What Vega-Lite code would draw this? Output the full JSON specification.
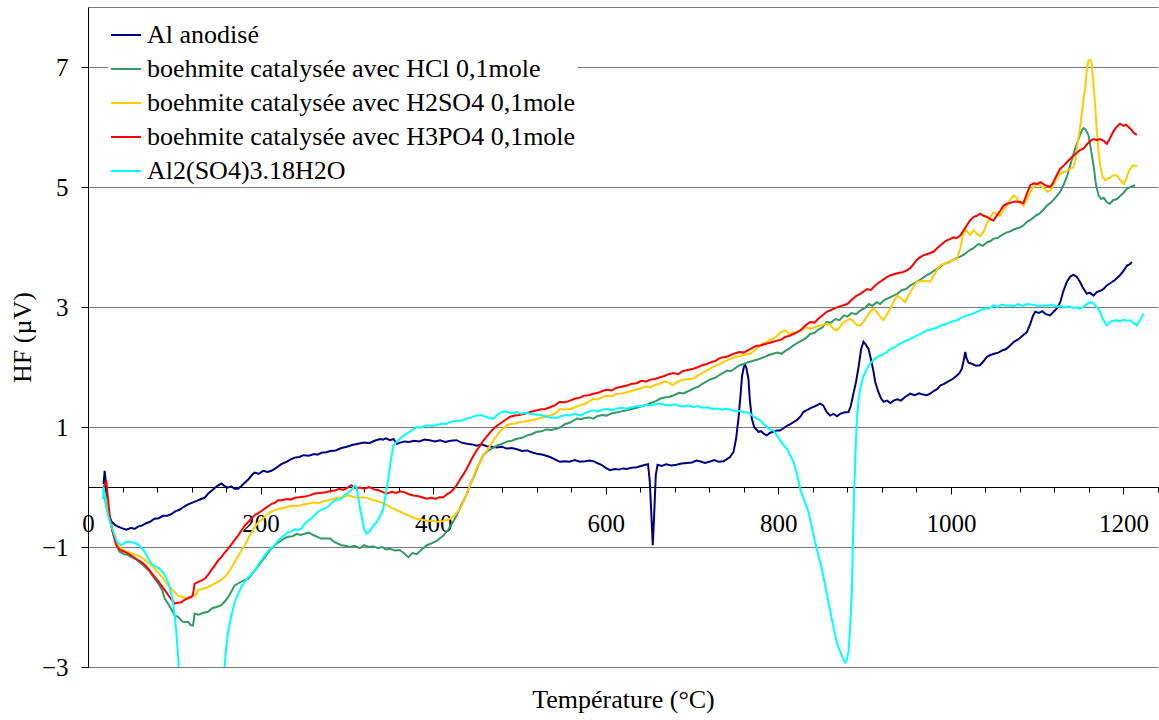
{
"$schema": "https://vega.github.io/schema/vega-lite/v6.json",
"width": 1070,
"height": 660,
"autosize": "none",
"padding": {"left": 88, "top": 7, "right": 1, "bottom": 53},
"background": "white",
"config": {"view": {"stroke": null}, "font": "Liberation Serif"},
"datasets": {
"names": [
{"k": "a", "name": "Al anodisé"},
{"k": "g", "name": "boehmite catalysée avec HCl 0,1mole"},
{"k": "y", "name": "boehmite catalysée avec H2SO4 0,1mole"},
{"k": "r", "name": "boehmite catalysée avec H3PO4 0,1mole"},
{"k": "c", "name": "Al2(SO4)3.18H2O"}
],
"pts": [
{"k":"a","t":18,"v":0.05},{"k":"a","t":19.3,"v":0.27},{"k":"a","t":20.5,"v":0.1},{"k":"a","t":21.2,"v":-0.32},{"k":"a","t":24,"v":-0.45},{"k":"a","t":27,"v":-0.57},{"k":"a","t":31,"v":-0.63},{"k":"a","t":34.7,"v":-0.66},{"k":"a","t":40,"v":-0.69},{"k":"a","t":44.4,"v":-0.71},{"k":"a","t":50,"v":-0.68},{"k":"a","t":54,"v":-0.7},{"k":"a","t":58,"v":-0.66},{"k":"a","t":63,"v":-0.64},{"k":"a","t":68,"v":-0.6},{"k":"a","t":72,"v":-0.58},{"k":"a","t":77,"v":-0.53},{"k":"a","t":82,"v":-0.52},{"k":"a","t":87,"v":-0.48},{"k":"a","t":92,"v":-0.48},{"k":"a","t":96.6,"v":-0.45},{"k":"a","t":102,"v":-0.4},{"k":"a","t":106,"v":-0.38},{"k":"a","t":111,"v":-0.33},{"k":"a","t":116,"v":-0.29},{"k":"a","t":121,"v":-0.26},{"k":"a","t":126,"v":-0.23},{"k":"a","t":131,"v":-0.2},{"k":"a","t":135,"v":-0.18},{"k":"a","t":140,"v":-0.1},{"k":"a","t":145,"v":-0.04},{"k":"a","t":150,"v":0.02},{"k":"a","t":154.6,"v":0.06},{"k":"a","t":158,"v":0.02},{"k":"a","t":162,"v":-0.01},{"k":"a","t":166,"v":0.01},{"k":"a","t":170,"v":-0.03},{"k":"a","t":174,"v":-0.03},{"k":"a","t":178,"v":0.02},{"k":"a","t":181.6,"v":0.07},{"k":"a","t":186,"v":0.13},{"k":"a","t":190,"v":0.2},{"k":"a","t":193,"v":0.24},{"k":"a","t":198,"v":0.22},{"k":"a","t":203,"v":0.27},{"k":"a","t":208,"v":0.25},{"k":"a","t":212.5,"v":0.27},{"k":"a","t":218,"v":0.32},{"k":"a","t":224,"v":0.38},{"k":"a","t":230,"v":0.42},{"k":"a","t":235,"v":0.46},{"k":"a","t":239.6,"v":0.49},{"k":"a","t":245,"v":0.5},{"k":"a","t":250,"v":0.53},{"k":"a","t":256,"v":0.52},{"k":"a","t":262,"v":0.55},{"k":"a","t":266,"v":0.54},{"k":"a","t":270.5,"v":0.57},{"k":"a","t":276,"v":0.58},{"k":"a","t":281,"v":0.6},{"k":"a","t":287,"v":0.61},{"k":"a","t":293.7,"v":0.65},{"k":"a","t":300,"v":0.67},{"k":"a","t":306,"v":0.7},{"k":"a","t":313,"v":0.72},{"k":"a","t":320,"v":0.74},{"k":"a","t":326,"v":0.73},{"k":"a","t":332,"v":0.77},{"k":"a","t":338.5,"v":0.8},{"k":"a","t":342,"v":0.79},{"k":"a","t":345,"v":0.81},{"k":"a","t":350,"v":0.78},{"k":"a","t":354,"v":0.8},{"k":"a","t":357.8,"v":0.72},{"k":"a","t":362,"v":0.74},{"k":"a","t":367,"v":0.76},{"k":"a","t":372,"v":0.75},{"k":"a","t":378,"v":0.77},{"k":"a","t":384,"v":0.76},{"k":"a","t":390,"v":0.79},{"k":"a","t":396,"v":0.78},{"k":"a","t":402,"v":0.76},{"k":"a","t":408,"v":0.78},{"k":"a","t":414,"v":0.75},{"k":"a","t":420,"v":0.77},{"k":"a","t":427,"v":0.78},{"k":"a","t":433,"v":0.74},{"k":"a","t":439,"v":0.72},{"k":"a","t":445,"v":0.71},{"k":"a","t":450.5,"v":0.69},{"k":"a","t":456,"v":0.71},{"k":"a","t":462,"v":0.68},{"k":"a","t":468,"v":0.67},{"k":"a","t":473.7,"v":0.66},{"k":"a","t":480,"v":0.67},{"k":"a","t":485,"v":0.64},{"k":"a","t":491,"v":0.65},{"k":"a","t":497,"v":0.63},{"k":"a","t":503,"v":0.6},{"k":"a","t":509,"v":0.61},{"k":"a","t":514,"v":0.58},{"k":"a","t":520,"v":0.555},{"k":"a","t":526,"v":0.54},{"k":"a","t":531,"v":0.52},{"k":"a","t":535.5,"v":0.5},{"k":"a","t":540,"v":0.47},{"k":"a","t":544,"v":0.44},{"k":"a","t":547,"v":0.42},{"k":"a","t":552,"v":0.43},{"k":"a","t":558,"v":0.42},{"k":"a","t":564,"v":0.45},{"k":"a","t":570,"v":0.42},{"k":"a","t":576,"v":0.43},{"k":"a","t":581,"v":0.44},{"k":"a","t":585.7,"v":0.43},{"k":"a","t":590,"v":0.4},{"k":"a","t":595,"v":0.37},{"k":"a","t":600,"v":0.32},{"k":"a","t":605,"v":0.28},{"k":"a","t":610,"v":0.3},{"k":"a","t":615,"v":0.29},{"k":"a","t":620,"v":0.31},{"k":"a","t":624.4,"v":0.3},{"k":"a","t":630,"v":0.32},{"k":"a","t":636,"v":0.33},{"k":"a","t":641,"v":0.35},{"k":"a","t":646,"v":0.37},{"k":"a","t":649,"v":0.38},{"k":"a","t":651,"v":0.1},{"k":"a","t":653,"v":-0.5},{"k":"a","t":654.5,"v":-0.97},{"k":"a","t":656,"v":-0.5},{"k":"a","t":658,"v":0.2},{"k":"a","t":660,"v":0.37},{"k":"a","t":665,"v":0.35},{"k":"a","t":670,"v":0.38},{"k":"a","t":676,"v":0.36},{"k":"a","t":682,"v":0.37},{"k":"a","t":688,"v":0.39},{"k":"a","t":694,"v":0.4},{"k":"a","t":700,"v":0.41},{"k":"a","t":705,"v":0.44},{"k":"a","t":709,"v":0.43},{"k":"a","t":715,"v":0.4},{"k":"a","t":720,"v":0.42},{"k":"a","t":726,"v":0.45},{"k":"a","t":731,"v":0.42},{"k":"a","t":736.4,"v":0.43},{"k":"a","t":740,"v":0.46},{"k":"a","t":744,"v":0.5},{"k":"a","t":748,"v":0.58},{"k":"a","t":751,"v":0.8},{"k":"a","t":753.8,"v":1.14},{"k":"a","t":756,"v":1.5},{"k":"a","t":758,"v":1.85},{"k":"a","t":760,"v":2},{"k":"a","t":761.6,"v":2.04},{"k":"a","t":763,"v":1.98},{"k":"a","t":765.4,"v":1.8},{"k":"a","t":767,"v":1.45},{"k":"a","t":769.3,"v":1.14},{"k":"a","t":772,"v":1},{"k":"a","t":775,"v":0.95},{"k":"a","t":777,"v":0.92},{"k":"a","t":780,"v":0.93},{"k":"a","t":783,"v":0.89},{"k":"a","t":786.7,"v":0.86},{"k":"a","t":790,"v":0.9},{"k":"a","t":794,"v":0.92},{"k":"a","t":798,"v":0.94},{"k":"a","t":802,"v":0.94},{"k":"a","t":806,"v":0.98},{"k":"a","t":810,"v":1.02},{"k":"a","t":813,"v":1.04},{"k":"a","t":817.6,"v":1.08},{"k":"a","t":822,"v":1.12},{"k":"a","t":826,"v":1.18},{"k":"a","t":829,"v":1.25},{"k":"a","t":833,"v":1.28},{"k":"a","t":838,"v":1.32},{"k":"a","t":843,"v":1.35},{"k":"a","t":848.5,"v":1.39},{"k":"a","t":852,"v":1.36},{"k":"a","t":856,"v":1.25},{"k":"a","t":860,"v":1.19},{"k":"a","t":864,"v":1.22},{"k":"a","t":868,"v":1.18},{"k":"a","t":871.7,"v":1.22},{"k":"a","t":876,"v":1.24},{"k":"a","t":881.3,"v":1.25},{"k":"a","t":884,"v":1.35},{"k":"a","t":887,"v":1.555},{"k":"a","t":890,"v":1.75},{"k":"a","t":893,"v":2},{"k":"a","t":896,"v":2.3},{"k":"a","t":898.7,"v":2.42},{"k":"a","t":901,"v":2.38},{"k":"a","t":904.5,"v":2.3},{"k":"a","t":907,"v":2.15},{"k":"a","t":910,"v":1.95},{"k":"a","t":912.3,"v":1.75},{"k":"a","t":916,"v":1.58},{"k":"a","t":919,"v":1.48},{"k":"a","t":921.9,"v":1.42},{"k":"a","t":926,"v":1.44},{"k":"a","t":930,"v":1.4},{"k":"a","t":933.5,"v":1.44},{"k":"a","t":938,"v":1.46},{"k":"a","t":942,"v":1.44},{"k":"a","t":947,"v":1.5},{"k":"a","t":952.8,"v":1.555},{"k":"a","t":958,"v":1.53},{"k":"a","t":963,"v":1.56},{"k":"a","t":968,"v":1.54},{"k":"a","t":972,"v":1.53},{"k":"a","t":976,"v":1.555},{"k":"a","t":980,"v":1.6},{"k":"a","t":984,"v":1.63},{"k":"a","t":987.6,"v":1.69},{"k":"a","t":992,"v":1.72},{"k":"a","t":997,"v":1.76},{"k":"a","t":1002,"v":1.8},{"k":"a","t":1007,"v":1.86},{"k":"a","t":1010,"v":1.9},{"k":"a","t":1012.7,"v":1.97},{"k":"a","t":1015,"v":2.12},{"k":"a","t":1016.6,"v":2.25},{"k":"a","t":1018,"v":2.15},{"k":"a","t":1020.4,"v":2.07},{"k":"a","t":1025,"v":2.05},{"k":"a","t":1029,"v":2.02},{"k":"a","t":1033.6,"v":2.03},{"k":"a","t":1038,"v":2.1},{"k":"a","t":1041.7,"v":2.17},{"k":"a","t":1046,"v":2.2},{"k":"a","t":1050,"v":2.22},{"k":"a","t":1055,"v":2.24},{"k":"a","t":1060,"v":2.28},{"k":"a","t":1064,"v":2.3},{"k":"a","t":1068.7,"v":2.36},{"k":"a","t":1073,"v":2.42},{"k":"a","t":1078,"v":2.46},{"k":"a","t":1083,"v":2.52},{"k":"a","t":1088,"v":2.58},{"k":"a","t":1092,"v":2.72},{"k":"a","t":1095,"v":2.85},{"k":"a","t":1097.7,"v":2.92},{"k":"a","t":1102,"v":2.9},{"k":"a","t":1106,"v":2.93},{"k":"a","t":1110,"v":2.88},{"k":"a","t":1115,"v":2.86},{"k":"a","t":1119,"v":2.92},{"k":"a","t":1123,"v":2.98},{"k":"a","t":1126.7,"v":3.08},{"k":"a","t":1130,"v":3.25},{"k":"a","t":1134.4,"v":3.42},{"k":"a","t":1138,"v":3.5},{"k":"a","t":1142,"v":3.54},{"k":"a","t":1146,"v":3.5},{"k":"a","t":1149.5,"v":3.42},{"k":"a","t":1153,"v":3.32},{"k":"a","t":1157.6,"v":3.22},{"k":"a","t":1161,"v":3.24},{"k":"a","t":1165.3,"v":3.19},{"k":"a","t":1169,"v":3.25},{"k":"a","t":1173,"v":3.27},{"k":"a","t":1177,"v":3.3},{"k":"a","t":1180.7,"v":3.36},{"k":"a","t":1185,"v":3.4},{"k":"a","t":1190,"v":3.45},{"k":"a","t":1196,"v":3.53},{"k":"a","t":1200,"v":3.6},{"k":"a","t":1204,"v":3.69},{"k":"a","t":1207,"v":3.71},{"k":"a","t":1209.8,"v":3.75},
{"k":"g","t":17,"v":-0.2},{"k":"g","t":19,"v":-0.15},{"k":"g","t":21,"v":-0.3},{"k":"g","t":23.2,"v":-0.42},{"k":"g","t":27,"v":-0.65},{"k":"g","t":30.9,"v":-0.86},{"k":"g","t":34,"v":-1},{"k":"g","t":36.7,"v":-1.08},{"k":"g","t":42,"v":-1.12},{"k":"g","t":46,"v":-1.13},{"k":"g","t":50.2,"v":-1.17},{"k":"g","t":55,"v":-1.2},{"k":"g","t":60,"v":-1.26},{"k":"g","t":65.7,"v":-1.33},{"k":"g","t":71,"v":-1.4},{"k":"g","t":77.3,"v":-1.53},{"k":"g","t":82,"v":-1.62},{"k":"g","t":86,"v":-1.72},{"k":"g","t":88.9,"v":-1.86},{"k":"g","t":93,"v":-1.95},{"k":"g","t":97,"v":-2.05},{"k":"g","t":100.5,"v":-2.14},{"k":"g","t":105,"v":-2.17},{"k":"g","t":109,"v":-2.24},{"k":"g","t":112,"v":-2.25},{"k":"g","t":116,"v":-2.25},{"k":"g","t":119,"v":-2.3},{"k":"g","t":121.7,"v":-2.31},{"k":"g","t":123.6,"v":-2.11},{"k":"g","t":128,"v":-2.13},{"k":"g","t":133,"v":-2.1},{"k":"g","t":139,"v":-2.08},{"k":"g","t":144,"v":-2.02},{"k":"g","t":149,"v":-2},{"k":"g","t":154.5,"v":-1.97},{"k":"g","t":159,"v":-1.9},{"k":"g","t":164,"v":-1.8},{"k":"g","t":170,"v":-1.64},{"k":"g","t":175,"v":-1.6},{"k":"g","t":180,"v":-1.56},{"k":"g","t":185.5,"v":-1.53},{"k":"g","t":190,"v":-1.45},{"k":"g","t":195,"v":-1.36},{"k":"g","t":200.9,"v":-1.25},{"k":"g","t":206,"v":-1.15},{"k":"g","t":211,"v":-1.05},{"k":"g","t":216.4,"v":-0.97},{"k":"g","t":221,"v":-0.92},{"k":"g","t":226,"v":-0.87},{"k":"g","t":231.8,"v":-0.83},{"k":"g","t":237,"v":-0.82},{"k":"g","t":242,"v":-0.78},{"k":"g","t":246,"v":-0.8},{"k":"g","t":251.2,"v":-0.78},{"k":"g","t":256,"v":-0.76},{"k":"g","t":261,"v":-0.8},{"k":"g","t":266,"v":-0.83},{"k":"g","t":270.4,"v":-0.86},{"k":"g","t":276,"v":-0.86},{"k":"g","t":280.5,"v":-0.86},{"k":"g","t":286,"v":-0.92},{"k":"g","t":293.6,"v":-0.97},{"k":"g","t":298,"v":-0.98},{"k":"g","t":303.7,"v":-1},{"k":"g","t":309,"v":-0.98},{"k":"g","t":315,"v":-1.02},{"k":"g","t":320,"v":-0.97},{"k":"g","t":325,"v":-1},{"k":"g","t":330.7,"v":-0.99},{"k":"g","t":336,"v":-1.02},{"k":"g","t":341,"v":-1},{"k":"g","t":345,"v":-1.04},{"k":"g","t":350,"v":-1.03},{"k":"g","t":356,"v":-1.06},{"k":"g","t":361,"v":-1.05},{"k":"g","t":366,"v":-1.1},{"k":"g","t":371.3,"v":-1.17},{"k":"g","t":376,"v":-1.1},{"k":"g","t":381,"v":-1.12},{"k":"g","t":386,"v":-1.05},{"k":"g","t":392.6,"v":-0.97},{"k":"g","t":398,"v":-0.94},{"k":"g","t":404,"v":-0.9},{"k":"g","t":411.9,"v":-0.81},{"k":"g","t":418,"v":-0.7},{"k":"g","t":423,"v":-0.58},{"k":"g","t":427.3,"v":-0.47},{"k":"g","t":432,"v":-0.32},{"k":"g","t":437,"v":-0.18},{"k":"g","t":442.8,"v":0.03},{"k":"g","t":448,"v":0.2},{"k":"g","t":453,"v":0.38},{"k":"g","t":458.2,"v":0.53},{"k":"g","t":463,"v":0.6},{"k":"g","t":468,"v":0.64},{"k":"g","t":473.7,"v":0.69},{"k":"g","t":480,"v":0.72},{"k":"g","t":486,"v":0.76},{"k":"g","t":491,"v":0.77},{"k":"g","t":497,"v":0.805},{"k":"g","t":503,"v":0.82},{"k":"g","t":509,"v":0.86},{"k":"g","t":514,"v":0.88},{"k":"g","t":520,"v":0.92},{"k":"g","t":526,"v":0.93},{"k":"g","t":531,"v":0.96},{"k":"g","t":537,"v":0.95},{"k":"g","t":543,"v":0.97},{"k":"g","t":548,"v":1},{"k":"g","t":553,"v":1.05},{"k":"g","t":558,"v":1.07},{"k":"g","t":562,"v":1.1},{"k":"g","t":566.5,"v":1.14},{"k":"g","t":571,"v":1.13},{"k":"g","t":576,"v":1.15},{"k":"g","t":581,"v":1.16},{"k":"g","t":585.7,"v":1.14},{"k":"g","t":590,"v":1.18},{"k":"g","t":596,"v":1.2},{"k":"g","t":601,"v":1.19},{"k":"g","t":607,"v":1.23},{"k":"g","t":612,"v":1.24},{"k":"g","t":618,"v":1.26},{"k":"g","t":624.4,"v":1.28},{"k":"g","t":630,"v":1.3},{"k":"g","t":636,"v":1.32},{"k":"g","t":642,"v":1.35},{"k":"g","t":647,"v":1.37},{"k":"g","t":652,"v":1.4},{"k":"g","t":658,"v":1.43},{"k":"g","t":663,"v":1.47},{"k":"g","t":668,"v":1.49},{"k":"g","t":673,"v":1.5},{"k":"g","t":679,"v":1.53},{"k":"g","t":685,"v":1.57},{"k":"g","t":690,"v":1.56},{"k":"g","t":696,"v":1.6},{"k":"g","t":701.6,"v":1.64},{"k":"g","t":707,"v":1.67},{"k":"g","t":712,"v":1.72},{"k":"g","t":717,"v":1.76},{"k":"g","t":722,"v":1.8},{"k":"g","t":727,"v":1.82},{"k":"g","t":732,"v":1.87},{"k":"g","t":736,"v":1.9},{"k":"g","t":740.3,"v":1.94},{"k":"g","t":745,"v":1.93},{"k":"g","t":750,"v":1.98},{"k":"g","t":755,"v":2.03},{"k":"g","t":760,"v":2.05},{"k":"g","t":765,"v":2.08},{"k":"g","t":770,"v":2.1},{"k":"g","t":775,"v":2.12},{"k":"g","t":779,"v":2.14},{"k":"g","t":784,"v":2.17},{"k":"g","t":789,"v":2.2},{"k":"g","t":794,"v":2.22},{"k":"g","t":799,"v":2.24},{"k":"g","t":804,"v":2.22},{"k":"g","t":808,"v":2.27},{"k":"g","t":813,"v":2.31},{"k":"g","t":817.6,"v":2.36},{"k":"g","t":822,"v":2.4},{"k":"g","t":827,"v":2.44},{"k":"g","t":832,"v":2.48},{"k":"g","t":837,"v":2.55},{"k":"g","t":842,"v":2.57},{"k":"g","t":846,"v":2.62},{"k":"g","t":851,"v":2.66},{"k":"g","t":856,"v":2.75},{"k":"g","t":861,"v":2.74},{"k":"g","t":866,"v":2.8},{"k":"g","t":871,"v":2.78},{"k":"g","t":876,"v":2.86},{"k":"g","t":880,"v":2.84},{"k":"g","t":885,"v":2.9},{"k":"g","t":890,"v":2.88},{"k":"g","t":894.9,"v":2.94},{"k":"g","t":900,"v":2.98},{"k":"g","t":905,"v":3.05},{"k":"g","t":909,"v":3.02},{"k":"g","t":914,"v":3.08},{"k":"g","t":918,"v":3.05},{"k":"g","t":923,"v":3.12},{"k":"g","t":928,"v":3.15},{"k":"g","t":933.5,"v":3.19},{"k":"g","t":938,"v":3.22},{"k":"g","t":943,"v":3.28},{"k":"g","t":948,"v":3.3},{"k":"g","t":953,"v":3.36},{"k":"g","t":958,"v":3.4},{"k":"g","t":963,"v":3.44},{"k":"g","t":967,"v":3.48},{"k":"g","t":972,"v":3.53},{"k":"g","t":977,"v":3.57},{"k":"g","t":982,"v":3.62},{"k":"g","t":987,"v":3.66},{"k":"g","t":992,"v":3.72},{"k":"g","t":997,"v":3.74},{"k":"g","t":1002,"v":3.78},{"k":"g","t":1007,"v":3.82},{"k":"g","t":1010.8,"v":3.84},{"k":"g","t":1016,"v":3.88},{"k":"g","t":1021,"v":3.94},{"k":"g","t":1026,"v":3.98},{"k":"g","t":1032,"v":4.05},{"k":"g","t":1037,"v":4.02},{"k":"g","t":1042,"v":4.08},{"k":"g","t":1046,"v":4.1},{"k":"g","t":1049.4,"v":4.14},{"k":"g","t":1054,"v":4.15},{"k":"g","t":1059,"v":4.2},{"k":"g","t":1064,"v":4.24},{"k":"g","t":1069,"v":4.26},{"k":"g","t":1074,"v":4.3},{"k":"g","t":1079,"v":4.32},{"k":"g","t":1084,"v":4.36},{"k":"g","t":1088,"v":4.42},{"k":"g","t":1093,"v":4.46},{"k":"g","t":1098,"v":4.52},{"k":"g","t":1103,"v":4.56},{"k":"g","t":1107,"v":4.62},{"k":"g","t":1111.2,"v":4.69},{"k":"g","t":1116,"v":4.74},{"k":"g","t":1121,"v":4.82},{"k":"g","t":1126.7,"v":4.92},{"k":"g","t":1131,"v":5.05},{"k":"g","t":1135,"v":5.2},{"k":"g","t":1138.3,"v":5.36},{"k":"g","t":1141,"v":5.5},{"k":"g","t":1144,"v":5.64},{"k":"g","t":1148,"v":5.8},{"k":"g","t":1151,"v":5.92},{"k":"g","t":1153.7,"v":5.98},{"k":"g","t":1156,"v":5.96},{"k":"g","t":1159.5,"v":5.86},{"k":"g","t":1162,"v":5.65},{"k":"g","t":1165.3,"v":5.36},{"k":"g","t":1168,"v":5.05},{"k":"g","t":1171.1,"v":4.86},{"k":"g","t":1174,"v":4.8},{"k":"g","t":1177,"v":4.82},{"k":"g","t":1180.7,"v":4.75},{"k":"g","t":1184,"v":4.72},{"k":"g","t":1188,"v":4.78},{"k":"g","t":1192.4,"v":4.8},{"k":"g","t":1196,"v":4.85},{"k":"g","t":1200,"v":4.9},{"k":"g","t":1203.9,"v":4.97},{"k":"g","t":1208,"v":5},{"k":"g","t":1213.6,"v":5.03},
{"k":"y","t":17,"v":-0.05},{"k":"y","t":19.3,"v":-0.1},{"k":"y","t":22,"v":-0.3},{"k":"y","t":26,"v":-0.6},{"k":"y","t":30.9,"v":-0.81},{"k":"y","t":34,"v":-0.95},{"k":"y","t":38.6,"v":-1.03},{"k":"y","t":43,"v":-1.07},{"k":"y","t":48,"v":-1.09},{"k":"y","t":53,"v":-1.12},{"k":"y","t":58,"v":-1.14},{"k":"y","t":63,"v":-1.18},{"k":"y","t":68,"v":-1.24},{"k":"y","t":73,"v":-1.3},{"k":"y","t":77.3,"v":-1.36},{"k":"y","t":82,"v":-1.44},{"k":"y","t":87,"v":-1.52},{"k":"y","t":92.7,"v":-1.64},{"k":"y","t":97,"v":-1.7},{"k":"y","t":101,"v":-1.76},{"k":"y","t":104.3,"v":-1.81},{"k":"y","t":108,"v":-1.83},{"k":"y","t":112,"v":-1.84},{"k":"y","t":115.9,"v":-1.86},{"k":"y","t":119,"v":-1.84},{"k":"y","t":123.6,"v":-1.81},{"k":"y","t":126,"v":-1.78},{"k":"y","t":127.5,"v":-1.72},{"k":"y","t":132,"v":-1.7},{"k":"y","t":137,"v":-1.68},{"k":"y","t":142.9,"v":-1.64},{"k":"y","t":148,"v":-1.6},{"k":"y","t":153,"v":-1.56},{"k":"y","t":158.4,"v":-1.5},{"k":"y","t":162,"v":-1.44},{"k":"y","t":166,"v":-1.35},{"k":"y","t":170,"v":-1.25},{"k":"y","t":174,"v":-1.15},{"k":"y","t":178,"v":-1.05},{"k":"y","t":181.6,"v":-0.97},{"k":"y","t":186,"v":-0.85},{"k":"y","t":190,"v":-0.75},{"k":"y","t":193.2,"v":-0.67},{"k":"y","t":198,"v":-0.58},{"k":"y","t":203,"v":-0.52},{"k":"y","t":208.6,"v":-0.445},{"k":"y","t":214,"v":-0.4},{"k":"y","t":220,"v":-0.37},{"k":"y","t":226,"v":-0.35},{"k":"y","t":231.8,"v":-0.33},{"k":"y","t":237,"v":-0.31},{"k":"y","t":243,"v":-0.32},{"k":"y","t":249,"v":-0.29},{"k":"y","t":255,"v":-0.28},{"k":"y","t":261,"v":-0.26},{"k":"y","t":267,"v":-0.27},{"k":"y","t":272,"v":-0.24},{"k":"y","t":278.2,"v":-0.22},{"k":"y","t":284,"v":-0.2},{"k":"y","t":290,"v":-0.18},{"k":"y","t":296,"v":-0.17},{"k":"y","t":301.4,"v":-0.14},{"k":"y","t":306,"v":-0.16},{"k":"y","t":312,"v":-0.18},{"k":"y","t":319,"v":-0.17},{"k":"y","t":325,"v":-0.19},{"k":"y","t":331,"v":-0.22},{"k":"y","t":338.5,"v":-0.25},{"k":"y","t":344,"v":-0.28},{"k":"y","t":350,"v":-0.33},{"k":"y","t":357.8,"v":-0.39},{"k":"y","t":363,"v":-0.42},{"k":"y","t":369,"v":-0.46},{"k":"y","t":375,"v":-0.5},{"k":"y","t":381,"v":-0.53},{"k":"y","t":387,"v":-0.54},{"k":"y","t":393,"v":-0.57},{"k":"y","t":398,"v":-0.56},{"k":"y","t":404.2,"v":-0.58},{"k":"y","t":410,"v":-0.57},{"k":"y","t":415,"v":-0.55},{"k":"y","t":419.6,"v":-0.53},{"k":"y","t":425,"v":-0.47},{"k":"y","t":428,"v":-0.42},{"k":"y","t":431.2,"v":-0.36},{"k":"y","t":435,"v":-0.25},{"k":"y","t":439,"v":-0.12},{"k":"y","t":442.8,"v":0.03},{"k":"y","t":447,"v":0.18},{"k":"y","t":450,"v":0.3},{"k":"y","t":454.4,"v":0.42},{"k":"y","t":458,"v":0.52},{"k":"y","t":462,"v":0.6},{"k":"y","t":466,"v":0.69},{"k":"y","t":471,"v":0.8},{"k":"y","t":476,"v":0.9},{"k":"y","t":480,"v":0.96},{"k":"y","t":485.3,"v":1.03},{"k":"y","t":490,"v":1.05},{"k":"y","t":495,"v":1.06},{"k":"y","t":500,"v":1.08},{"k":"y","t":506,"v":1.09},{"k":"y","t":512.3,"v":1.11},{"k":"y","t":518,"v":1.12},{"k":"y","t":524,"v":1.15},{"k":"y","t":530,"v":1.17},{"k":"y","t":535.5,"v":1.19},{"k":"y","t":541,"v":1.22},{"k":"y","t":547,"v":1.3},{"k":"y","t":552,"v":1.29},{"k":"y","t":558.7,"v":1.3},{"k":"y","t":564,"v":1.33},{"k":"y","t":570,"v":1.36},{"k":"y","t":575,"v":1.38},{"k":"y","t":580,"v":1.42},{"k":"y","t":585.7,"v":1.47},{"k":"y","t":591,"v":1.46},{"k":"y","t":596,"v":1.5},{"k":"y","t":601,"v":1.52},{"k":"y","t":607,"v":1.51},{"k":"y","t":612,"v":1.55},{"k":"y","t":618,"v":1.56},{"k":"y","t":624.4,"v":1.58},{"k":"y","t":630,"v":1.6},{"k":"y","t":636,"v":1.63},{"k":"y","t":642,"v":1.65},{"k":"y","t":647,"v":1.68},{"k":"y","t":652,"v":1.66},{"k":"y","t":657,"v":1.7},{"k":"y","t":663,"v":1.72},{"k":"y","t":668,"v":1.76},{"k":"y","t":673,"v":1.74},{"k":"y","t":677,"v":1.7},{"k":"y","t":682,"v":1.74},{"k":"y","t":687,"v":1.78},{"k":"y","t":692,"v":1.79},{"k":"y","t":697,"v":1.8},{"k":"y","t":701.6,"v":1.805},{"k":"y","t":707,"v":1.86},{"k":"y","t":712,"v":1.9},{"k":"y","t":717,"v":1.94},{"k":"y","t":722,"v":1.98},{"k":"y","t":727,"v":2.02},{"k":"y","t":732,"v":2.05},{"k":"y","t":736,"v":2.08},{"k":"y","t":740.3,"v":2.11},{"k":"y","t":745,"v":2.14},{"k":"y","t":750,"v":2.17},{"k":"y","t":755,"v":2.18},{"k":"y","t":760,"v":2.2},{"k":"y","t":767.4,"v":2.22},{"k":"y","t":772,"v":2.27},{"k":"y","t":777,"v":2.33},{"k":"y","t":781,"v":2.38},{"k":"y","t":786.7,"v":2.42},{"k":"y","t":790,"v":2.45},{"k":"y","t":795,"v":2.48},{"k":"y","t":799,"v":2.52},{"k":"y","t":803,"v":2.58},{"k":"y","t":808,"v":2.61},{"k":"y","t":813,"v":2.55},{"k":"y","t":817.6,"v":2.58},{"k":"y","t":822,"v":2.58},{"k":"y","t":828,"v":2.62},{"k":"y","t":832,"v":2.66},{"k":"y","t":837,"v":2.64},{"k":"y","t":842,"v":2.66},{"k":"y","t":846,"v":2.68},{"k":"y","t":851,"v":2.7},{"k":"y","t":856,"v":2.72},{"k":"y","t":860,"v":2.7},{"k":"y","t":864,"v":2.64},{"k":"y","t":867.8,"v":2.61},{"k":"y","t":872,"v":2.68},{"k":"y","t":876,"v":2.75},{"k":"y","t":880,"v":2.78},{"k":"y","t":883.3,"v":2.805},{"k":"y","t":887,"v":2.76},{"k":"y","t":891,"v":2.7},{"k":"y","t":894.9,"v":2.69},{"k":"y","t":899,"v":2.76},{"k":"y","t":903,"v":2.85},{"k":"y","t":907,"v":2.93},{"k":"y","t":910.3,"v":2.97},{"k":"y","t":914,"v":2.92},{"k":"y","t":918,"v":2.84},{"k":"y","t":921.9,"v":2.78},{"k":"y","t":926,"v":2.88},{"k":"y","t":930,"v":2.98},{"k":"y","t":934,"v":3.1},{"k":"y","t":937.3,"v":3.19},{"k":"y","t":942,"v":3.15},{"k":"y","t":947,"v":3.08},{"k":"y","t":951,"v":3.2},{"k":"y","t":956,"v":3.32},{"k":"y","t":960.6,"v":3.42},{"k":"y","t":965,"v":3.43},{"k":"y","t":970,"v":3.44},{"k":"y","t":976,"v":3.42},{"k":"y","t":980,"v":3.52},{"k":"y","t":984,"v":3.62},{"k":"y","t":987.6,"v":3.69},{"k":"y","t":992,"v":3.72},{"k":"y","t":997,"v":3.75},{"k":"y","t":1002,"v":3.78},{"k":"y","t":1007,"v":3.8},{"k":"y","t":1010.8,"v":3.97},{"k":"y","t":1014.6,"v":4.25},{"k":"y","t":1018,"v":4.28},{"k":"y","t":1022,"v":4.2},{"k":"y","t":1026.2,"v":4.28},{"k":"y","t":1030,"v":4.22},{"k":"y","t":1034,"v":4.18},{"k":"y","t":1038,"v":4.26},{"k":"y","t":1042,"v":4.4},{"k":"y","t":1046,"v":4.5},{"k":"y","t":1049.4,"v":4.58},{"k":"y","t":1053,"v":4.55},{"k":"y","t":1057,"v":4.52},{"k":"y","t":1061,"v":4.62},{"k":"y","t":1066,"v":4.72},{"k":"y","t":1069,"v":4.8},{"k":"y","t":1072.6,"v":4.86},{"k":"y","t":1076,"v":4.82},{"k":"y","t":1080,"v":4.74},{"k":"y","t":1084.2,"v":4.69},{"k":"y","t":1088,"v":4.8},{"k":"y","t":1092,"v":4.92},{"k":"y","t":1096,"v":5},{"k":"y","t":1099.7,"v":5.05},{"k":"y","t":1104,"v":5.02},{"k":"y","t":1108,"v":4.98},{"k":"y","t":1112,"v":4.92},{"k":"y","t":1115,"v":4.94},{"k":"y","t":1119,"v":5.05},{"k":"y","t":1123,"v":5.15},{"k":"y","t":1126.7,"v":5.22},{"k":"y","t":1131,"v":5.25},{"k":"y","t":1136,"v":5.28},{"k":"y","t":1142,"v":5.33},{"k":"y","t":1145,"v":5.5},{"k":"y","t":1147,"v":5.75},{"k":"y","t":1149.5,"v":5.97},{"k":"y","t":1152,"v":6.25},{"k":"y","t":1154,"v":6.5},{"k":"y","t":1155.7,"v":6.64},{"k":"y","t":1157.5,"v":6.95},{"k":"y","t":1159.5,"v":7.11},{"k":"y","t":1161.5,"v":7.12},{"k":"y","t":1163.3,"v":7.05},{"k":"y","t":1165,"v":6.75},{"k":"y","t":1167.2,"v":6.36},{"k":"y","t":1169,"v":5.95},{"k":"y","t":1171,"v":5.6},{"k":"y","t":1173,"v":5.36},{"k":"y","t":1175.5,"v":5.18},{"k":"y","t":1178.8,"v":5.11},{"k":"y","t":1182,"v":5.14},{"k":"y","t":1185,"v":5.16},{"k":"y","t":1189,"v":5.2},{"k":"y","t":1192.4,"v":5.19},{"k":"y","t":1196,"v":5.12},{"k":"y","t":1200,"v":5.05},{"k":"y","t":1203,"v":5.12},{"k":"y","t":1205,"v":5.22},{"k":"y","t":1207.8,"v":5.3},{"k":"y","t":1211,"v":5.36},{"k":"y","t":1215.5,"v":5.35},
{"k":"r","t":18,"v":0},{"k":"r","t":20,"v":0.05},{"k":"r","t":21.2,"v":0.11},{"k":"r","t":22.5,"v":-0.1},{"k":"r","t":25.1,"v":-0.47},{"k":"r","t":28,"v":-0.72},{"k":"r","t":32.8,"v":-0.97},{"k":"r","t":37,"v":-1.05},{"k":"r","t":41,"v":-1.07},{"k":"r","t":46.4,"v":-1.11},{"k":"r","t":51,"v":-1.15},{"k":"r","t":56,"v":-1.2},{"k":"r","t":61.8,"v":-1.25},{"k":"r","t":66,"v":-1.3},{"k":"r","t":71,"v":-1.38},{"k":"r","t":77.3,"v":-1.5},{"k":"r","t":82,"v":-1.58},{"k":"r","t":86,"v":-1.66},{"k":"r","t":88.9,"v":-1.72},{"k":"r","t":93,"v":-1.8},{"k":"r","t":97,"v":-1.88},{"k":"r","t":100.5,"v":-1.945},{"k":"r","t":104,"v":-1.93},{"k":"r","t":108.2,"v":-1.92},{"k":"r","t":112,"v":-1.88},{"k":"r","t":116,"v":-1.85},{"k":"r","t":119.7,"v":-1.83},{"k":"r","t":121.5,"v":-1.8},{"k":"r","t":123.6,"v":-1.61},{"k":"r","t":128,"v":-1.58},{"k":"r","t":131,"v":-1.56},{"k":"r","t":135.3,"v":-1.53},{"k":"r","t":140,"v":-1.45},{"k":"r","t":143,"v":-1.38},{"k":"r","t":146.9,"v":-1.31},{"k":"r","t":151,"v":-1.22},{"k":"r","t":155,"v":-1.16},{"k":"r","t":158,"v":-1.1},{"k":"r","t":162.3,"v":-1.03},{"k":"r","t":166,"v":-0.96},{"k":"r","t":170,"v":-0.88},{"k":"r","t":173.9,"v":-0.81},{"k":"r","t":178,"v":-0.72},{"k":"r","t":182,"v":-0.64},{"k":"r","t":186,"v":-0.58},{"k":"r","t":189.3,"v":-0.53},{"k":"r","t":193,"v":-0.47},{"k":"r","t":197,"v":-0.44},{"k":"r","t":201,"v":-0.4},{"k":"r","t":204.8,"v":-0.36},{"k":"r","t":209,"v":-0.32},{"k":"r","t":213,"v":-0.28},{"k":"r","t":217,"v":-0.26},{"k":"r","t":220.2,"v":-0.22},{"k":"r","t":225,"v":-0.22},{"k":"r","t":230,"v":-0.2},{"k":"r","t":235,"v":-0.21},{"k":"r","t":239.6,"v":-0.18},{"k":"r","t":245,"v":-0.17},{"k":"r","t":251,"v":-0.16},{"k":"r","t":257,"v":-0.14},{"k":"r","t":262.8,"v":-0.11},{"k":"r","t":268,"v":-0.1},{"k":"r","t":274,"v":-0.09},{"k":"r","t":280,"v":-0.07},{"k":"r","t":286,"v":-0.06},{"k":"r","t":291,"v":-0.03},{"k":"r","t":296,"v":-0.05},{"k":"r","t":300,"v":-0.02},{"k":"r","t":305.2,"v":0.03},{"k":"r","t":310,"v":-0.02},{"k":"r","t":315,"v":-0.01},{"k":"r","t":320,"v":-0.03},{"k":"r","t":326,"v":0},{"k":"r","t":331,"v":-0.04},{"k":"r","t":336,"v":-0.05},{"k":"r","t":341,"v":-0.08},{"k":"r","t":346.2,"v":-0.11},{"k":"r","t":352,"v":-0.08},{"k":"r","t":357,"v":-0.1},{"k":"r","t":362,"v":-0.07},{"k":"r","t":367,"v":-0.09},{"k":"r","t":372,"v":-0.12},{"k":"r","t":377,"v":-0.14},{"k":"r","t":382,"v":-0.15},{"k":"r","t":387,"v":-0.17},{"k":"r","t":392.6,"v":-0.195},{"k":"r","t":398,"v":-0.18},{"k":"r","t":403,"v":-0.2},{"k":"r","t":407,"v":-0.17},{"k":"r","t":411.9,"v":-0.17},{"k":"r","t":416,"v":-0.12},{"k":"r","t":420,"v":-0.09},{"k":"r","t":424,"v":-0.03},{"k":"r","t":427.3,"v":0.03},{"k":"r","t":431,"v":0.12},{"k":"r","t":435,"v":0.21},{"k":"r","t":438.9,"v":0.305},{"k":"r","t":443,"v":0.42},{"k":"r","t":447,"v":0.53},{"k":"r","t":450,"v":0.6},{"k":"r","t":454.4,"v":0.69},{"k":"r","t":458,"v":0.77},{"k":"r","t":462,"v":0.84},{"k":"r","t":466,"v":0.91},{"k":"r","t":469.8,"v":0.97},{"k":"r","t":474,"v":1.02},{"k":"r","t":479,"v":1.07},{"k":"r","t":484,"v":1.12},{"k":"r","t":489.2,"v":1.17},{"k":"r","t":495,"v":1.19},{"k":"r","t":500,"v":1.2},{"k":"r","t":506,"v":1.22},{"k":"r","t":512.3,"v":1.25},{"k":"r","t":518,"v":1.27},{"k":"r","t":524,"v":1.29},{"k":"r","t":530,"v":1.3},{"k":"r","t":535.5,"v":1.33},{"k":"r","t":541,"v":1.36},{"k":"r","t":547,"v":1.42},{"k":"r","t":552,"v":1.41},{"k":"r","t":558.7,"v":1.44},{"k":"r","t":564,"v":1.47},{"k":"r","t":570,"v":1.49},{"k":"r","t":575,"v":1.52},{"k":"r","t":580,"v":1.53},{"k":"r","t":585.7,"v":1.555},{"k":"r","t":591,"v":1.57},{"k":"r","t":596,"v":1.6},{"k":"r","t":601,"v":1.62},{"k":"r","t":607,"v":1.61},{"k":"r","t":612,"v":1.65},{"k":"r","t":618,"v":1.67},{"k":"r","t":624.4,"v":1.69},{"k":"r","t":630,"v":1.72},{"k":"r","t":636,"v":1.73},{"k":"r","t":641,"v":1.77},{"k":"r","t":647,"v":1.76},{"k":"r","t":652,"v":1.79},{"k":"r","t":657,"v":1.8},{"k":"r","t":663,"v":1.83},{"k":"r","t":668,"v":1.85},{"k":"r","t":673,"v":1.88},{"k":"r","t":678,"v":1.9},{"k":"r","t":684,"v":1.88},{"k":"r","t":689,"v":1.93},{"k":"r","t":695,"v":1.95},{"k":"r","t":701.6,"v":1.97},{"k":"r","t":707,"v":2},{"k":"r","t":712,"v":2.03},{"k":"r","t":717,"v":2.05},{"k":"r","t":722,"v":2.08},{"k":"r","t":727,"v":2.1},{"k":"r","t":731,"v":2.14},{"k":"r","t":735,"v":2.16},{"k":"r","t":740.3,"v":2.17},{"k":"r","t":745,"v":2.2},{"k":"r","t":750,"v":2.23},{"k":"r","t":755,"v":2.25},{"k":"r","t":760,"v":2.24},{"k":"r","t":765,"v":2.28},{"k":"r","t":770,"v":2.32},{"k":"r","t":774,"v":2.35},{"k":"r","t":779,"v":2.36},{"k":"r","t":784,"v":2.38},{"k":"r","t":789,"v":2.4},{"k":"r","t":794,"v":2.42},{"k":"r","t":799,"v":2.44},{"k":"r","t":804,"v":2.46},{"k":"r","t":808,"v":2.5},{"k":"r","t":813,"v":2.52},{"k":"r","t":817.6,"v":2.55},{"k":"r","t":822,"v":2.58},{"k":"r","t":827,"v":2.63},{"k":"r","t":832,"v":2.7},{"k":"r","t":837,"v":2.75},{"k":"r","t":842,"v":2.74},{"k":"r","t":846,"v":2.8},{"k":"r","t":851,"v":2.86},{"k":"r","t":856,"v":2.92},{"k":"r","t":861,"v":2.95},{"k":"r","t":866,"v":2.98},{"k":"r","t":871,"v":3.01},{"k":"r","t":875.5,"v":3.03},{"k":"r","t":880,"v":3.05},{"k":"r","t":885,"v":3.12},{"k":"r","t":890,"v":3.18},{"k":"r","t":894.9,"v":3.22},{"k":"r","t":899,"v":3.26},{"k":"r","t":903,"v":3.3},{"k":"r","t":907,"v":3.28},{"k":"r","t":910.3,"v":3.33},{"k":"r","t":914,"v":3.38},{"k":"r","t":918,"v":3.42},{"k":"r","t":922,"v":3.46},{"k":"r","t":925.8,"v":3.5},{"k":"r","t":930,"v":3.53},{"k":"r","t":935,"v":3.55},{"k":"r","t":940,"v":3.57},{"k":"r","t":944,"v":3.58},{"k":"r","t":949,"v":3.61},{"k":"r","t":953,"v":3.65},{"k":"r","t":957,"v":3.72},{"k":"r","t":960,"v":3.78},{"k":"r","t":964.4,"v":3.83},{"k":"r","t":968,"v":3.86},{"k":"r","t":972,"v":3.88},{"k":"r","t":976,"v":3.9},{"k":"r","t":979.8,"v":3.92},{"k":"r","t":984,"v":3.98},{"k":"r","t":988,"v":4.03},{"k":"r","t":992,"v":4.08},{"k":"r","t":995.3,"v":4.11},{"k":"r","t":999,"v":4.13},{"k":"r","t":1003,"v":4.16},{"k":"r","t":1007,"v":4.15},{"k":"r","t":1010.8,"v":4.19},{"k":"r","t":1014,"v":4.26},{"k":"r","t":1018,"v":4.35},{"k":"r","t":1022,"v":4.44},{"k":"r","t":1026.2,"v":4.5},{"k":"r","t":1030,"v":4.52},{"k":"r","t":1033.9,"v":4.555},{"k":"r","t":1038,"v":4.52},{"k":"r","t":1042,"v":4.5},{"k":"r","t":1046,"v":4.46},{"k":"r","t":1049.4,"v":4.44},{"k":"r","t":1053,"v":4.52},{"k":"r","t":1057,"v":4.6},{"k":"r","t":1061,"v":4.69},{"k":"r","t":1065,"v":4.72},{"k":"r","t":1070,"v":4.74},{"k":"r","t":1075,"v":4.76},{"k":"r","t":1080.3,"v":4.75},{"k":"r","t":1084,"v":4.73},{"k":"r","t":1087,"v":4.85},{"k":"r","t":1091.9,"v":5.03},{"k":"r","t":1096,"v":5.06},{"k":"r","t":1100,"v":5.05},{"k":"r","t":1104,"v":5.08},{"k":"r","t":1108,"v":5.04},{"k":"r","t":1111,"v":5.02},{"k":"r","t":1115,"v":5},{"k":"r","t":1118,"v":5.06},{"k":"r","t":1122,"v":5.18},{"k":"r","t":1126.7,"v":5.305},{"k":"r","t":1131,"v":5.36},{"k":"r","t":1135,"v":5.42},{"k":"r","t":1138.3,"v":5.47},{"k":"r","t":1142,"v":5.52},{"k":"r","t":1146,"v":5.57},{"k":"r","t":1150,"v":5.62},{"k":"r","t":1153.7,"v":5.64},{"k":"r","t":1157,"v":5.7},{"k":"r","t":1161,"v":5.76},{"k":"r","t":1165.3,"v":5.8},{"k":"r","t":1169,"v":5.78},{"k":"r","t":1173,"v":5.8},{"k":"r","t":1177,"v":5.77},{"k":"r","t":1180.7,"v":5.72},{"k":"r","t":1184,"v":5.8},{"k":"r","t":1188,"v":5.92},{"k":"r","t":1192,"v":6},{"k":"r","t":1196,"v":6.055},{"k":"r","t":1200,"v":6.02},{"k":"r","t":1203,"v":6.04},{"k":"r","t":1205.8,"v":6},{"k":"r","t":1209,"v":5.96},{"k":"r","t":1212,"v":5.9},{"k":"r","t":1215.5,"v":5.87},
{"k":"c","t":17.4,"v":-0.2},{"k":"c","t":18,"v":0},{"k":"c","t":19,"v":-0.1},{"k":"c","t":21,"v":-0.3},{"k":"c","t":23.2,"v":-0.47},{"k":"c","t":27,"v":-0.65},{"k":"c","t":30.9,"v":-0.81},{"k":"c","t":34,"v":-0.92},{"k":"c","t":38.6,"v":-0.97},{"k":"c","t":42,"v":-0.93},{"k":"c","t":46.4,"v":-0.91},{"k":"c","t":50,"v":-0.92},{"k":"c","t":54,"v":-0.93},{"k":"c","t":58,"v":-0.96},{"k":"c","t":62,"v":-1.01},{"k":"c","t":65.7,"v":-1.08},{"k":"c","t":69,"v":-1.17},{"k":"c","t":73.4,"v":-1.28},{"k":"c","t":78,"v":-1.32},{"k":"c","t":82,"v":-1.35},{"k":"c","t":85,"v":-1.39},{"k":"c","t":89,"v":-1.47},{"k":"c","t":92.7,"v":-1.58},{"k":"c","t":96,"v":-1.75},{"k":"c","t":98.5,"v":-1.92},{"k":"c","t":100.5,"v":-2.15},{"k":"c","t":102.4,"v":-2.42},{"k":"c","t":104,"v":-2.75},{"k":"c","t":105.1,"v":-2.97},{"k":"c","t":107,"v":-3.4},{"k":"c","t":110,"v":-3.9},{"k":"c","t":115,"v":-4.3},{"k":"c","t":125,"v":-4.5},{"k":"c","t":135,"v":-4.5},{"k":"c","t":145,"v":-4.3},{"k":"c","t":152,"v":-3.9},{"k":"c","t":156,"v":-3.3},{"k":"c","t":158.4,"v":-2.97},{"k":"c","t":160,"v":-2.7},{"k":"c","t":162.3,"v":-2.42},{"k":"c","t":166,"v":-2.15},{"k":"c","t":170,"v":-1.92},{"k":"c","t":174,"v":-1.78},{"k":"c","t":178,"v":-1.66},{"k":"c","t":181.6,"v":-1.58},{"k":"c","t":186,"v":-1.5},{"k":"c","t":190,"v":-1.44},{"k":"c","t":193.2,"v":-1.39},{"k":"c","t":197,"v":-1.3},{"k":"c","t":201,"v":-1.22},{"k":"c","t":204.8,"v":-1.14},{"k":"c","t":208,"v":-1.08},{"k":"c","t":212,"v":-1.02},{"k":"c","t":216.4,"v":-0.97},{"k":"c","t":220,"v":-0.9},{"k":"c","t":224,"v":-0.84},{"k":"c","t":228,"v":-0.8},{"k":"c","t":231.8,"v":-0.75},{"k":"c","t":236,"v":-0.74},{"k":"c","t":240,"v":-0.7},{"k":"c","t":243,"v":-0.72},{"k":"c","t":247.3,"v":-0.69},{"k":"c","t":251,"v":-0.62},{"k":"c","t":255,"v":-0.56},{"k":"c","t":259,"v":-0.52},{"k":"c","t":262.8,"v":-0.47},{"k":"c","t":266,"v":-0.42},{"k":"c","t":270,"v":-0.38},{"k":"c","t":274,"v":-0.36},{"k":"c","t":278.2,"v":-0.33},{"k":"c","t":282,"v":-0.27},{"k":"c","t":286,"v":-0.22},{"k":"c","t":290,"v":-0.21},{"k":"c","t":293.6,"v":-0.195},{"k":"c","t":297,"v":-0.14},{"k":"c","t":301,"v":-0.1},{"k":"c","t":305,"v":-0.05},{"k":"c","t":309,"v":0.03},{"k":"c","t":311,"v":0},{"k":"c","t":313,"v":-0.15},{"k":"c","t":315.3,"v":-0.36},{"k":"c","t":318,"v":-0.55},{"k":"c","t":320,"v":-0.7},{"k":"c","t":323,"v":-0.78},{"k":"c","t":326,"v":-0.74},{"k":"c","t":330,"v":-0.66},{"k":"c","t":334.6,"v":-0.58},{"k":"c","t":338,"v":-0.5},{"k":"c","t":342.3,"v":-0.36},{"k":"c","t":345,"v":-0.1},{"k":"c","t":348.1,"v":0.14},{"k":"c","t":351,"v":0.45},{"k":"c","t":353.9,"v":0.69},{"k":"c","t":358,"v":0.76},{"k":"c","t":363.6,"v":0.83},{"k":"c","t":368,"v":0.88},{"k":"c","t":372,"v":0.91},{"k":"c","t":376,"v":0.95},{"k":"c","t":381,"v":1},{"k":"c","t":386,"v":0.99},{"k":"c","t":392,"v":1.03},{"k":"c","t":398,"v":1.02},{"k":"c","t":404.2,"v":1.03},{"k":"c","t":410,"v":1.06},{"k":"c","t":415,"v":1.05},{"k":"c","t":421,"v":1.09},{"k":"c","t":427.3,"v":1.11},{"k":"c","t":432,"v":1.1},{"k":"c","t":438,"v":1.14},{"k":"c","t":444,"v":1.16},{"k":"c","t":450.5,"v":1.19},{"k":"c","t":456,"v":1.2},{"k":"c","t":461,"v":1.17},{"k":"c","t":465,"v":1.15},{"k":"c","t":469.8,"v":1.14},{"k":"c","t":474,"v":1.2},{"k":"c","t":478,"v":1.24},{"k":"c","t":481.4,"v":1.26},{"k":"c","t":486,"v":1.25},{"k":"c","t":491,"v":1.23},{"k":"c","t":497,"v":1.25},{"k":"c","t":502,"v":1.22},{"k":"c","t":507,"v":1.24},{"k":"c","t":512.3,"v":1.22},{"k":"c","t":518,"v":1.21},{"k":"c","t":524,"v":1.2},{"k":"c","t":530,"v":1.18},{"k":"c","t":536,"v":1.16},{"k":"c","t":543.3,"v":1.15},{"k":"c","t":548,"v":1.18},{"k":"c","t":553,"v":1.2},{"k":"c","t":558,"v":1.19},{"k":"c","t":564,"v":1.22},{"k":"c","t":570.3,"v":1.19},{"k":"c","t":576,"v":1.23},{"k":"c","t":581,"v":1.26},{"k":"c","t":585.7,"v":1.28},{"k":"c","t":591,"v":1.26},{"k":"c","t":597,"v":1.29},{"k":"c","t":602,"v":1.3},{"k":"c","t":608,"v":1.28},{"k":"c","t":613,"v":1.31},{"k":"c","t":618,"v":1.32},{"k":"c","t":624.4,"v":1.305},{"k":"c","t":630,"v":1.33},{"k":"c","t":636,"v":1.35},{"k":"c","t":641,"v":1.34},{"k":"c","t":647,"v":1.37},{"k":"c","t":652,"v":1.36},{"k":"c","t":657,"v":1.38},{"k":"c","t":663,"v":1.39},{"k":"c","t":668,"v":1.37},{"k":"c","t":674,"v":1.36},{"k":"c","t":680,"v":1.38},{"k":"c","t":685,"v":1.35},{"k":"c","t":690,"v":1.34},{"k":"c","t":696,"v":1.36},{"k":"c","t":701.6,"v":1.33},{"k":"c","t":707,"v":1.35},{"k":"c","t":712,"v":1.32},{"k":"c","t":718,"v":1.33},{"k":"c","t":724,"v":1.3},{"k":"c","t":730,"v":1.31},{"k":"c","t":735,"v":1.29},{"k":"c","t":740.3,"v":1.305},{"k":"c","t":746,"v":1.28},{"k":"c","t":751,"v":1.26},{"k":"c","t":756,"v":1.27},{"k":"c","t":760,"v":1.24},{"k":"c","t":763.5,"v":1.25},{"k":"c","t":767,"v":1.22},{"k":"c","t":771,"v":1.18},{"k":"c","t":775,"v":1.14},{"k":"c","t":779,"v":1.11},{"k":"c","t":783,"v":1.05},{"k":"c","t":787,"v":1},{"k":"c","t":790,"v":0.96},{"k":"c","t":794.4,"v":0.94},{"k":"c","t":798.3,"v":0.86},{"k":"c","t":802,"v":0.78},{"k":"c","t":806,"v":0.7},{"k":"c","t":809.9,"v":0.64},{"k":"c","t":813.7,"v":0.53},{"k":"c","t":817.6,"v":0.42},{"k":"c","t":821,"v":0.25},{"k":"c","t":825.3,"v":-0.03},{"k":"c","t":830,"v":-0.22},{"k":"c","t":835,"v":-0.42},{"k":"c","t":839,"v":-0.68},{"k":"c","t":842.7,"v":-0.92},{"k":"c","t":846,"v":-1.12},{"k":"c","t":850.4,"v":-1.36},{"k":"c","t":854,"v":-1.62},{"k":"c","t":858.1,"v":-1.92},{"k":"c","t":862,"v":-2.2},{"k":"c","t":865.9,"v":-2.47},{"k":"c","t":869,"v":-2.65},{"k":"c","t":873.6,"v":-2.81},{"k":"c","t":877.5,"v":-2.93},{"k":"c","t":879,"v":-2.9},{"k":"c","t":881.3,"v":-2.75},{"k":"c","t":883,"v":-2.4},{"k":"c","t":885.2,"v":-1.75},{"k":"c","t":886.5,"v":-0.9},{"k":"c","t":887.9,"v":-0.08},{"k":"c","t":889.5,"v":0.6},{"k":"c","t":891,"v":1.14},{"k":"c","t":893,"v":1.45},{"k":"c","t":894.9,"v":1.64},{"k":"c","t":898,"v":1.82},{"k":"c","t":902.6,"v":1.97},{"k":"c","t":907,"v":2.07},{"k":"c","t":912.3,"v":2.14},{"k":"c","t":916,"v":2.18},{"k":"c","t":920,"v":2.2},{"k":"c","t":925.8,"v":2.25},{"k":"c","t":930,"v":2.3},{"k":"c","t":935,"v":2.33},{"k":"c","t":940,"v":2.38},{"k":"c","t":945.1,"v":2.42},{"k":"c","t":950,"v":2.45},{"k":"c","t":955,"v":2.48},{"k":"c","t":960,"v":2.52},{"k":"c","t":966,"v":2.56},{"k":"c","t":972.1,"v":2.61},{"k":"c","t":978,"v":2.63},{"k":"c","t":984,"v":2.66},{"k":"c","t":990,"v":2.7},{"k":"c","t":995.3,"v":2.72},{"k":"c","t":1001,"v":2.76},{"k":"c","t":1007,"v":2.78},{"k":"c","t":1012,"v":2.82},{"k":"c","t":1018.5,"v":2.86},{"k":"c","t":1024,"v":2.88},{"k":"c","t":1030,"v":2.92},{"k":"c","t":1035,"v":2.95},{"k":"c","t":1040,"v":2.98},{"k":"c","t":1044,"v":2.97},{"k":"c","t":1049.4,"v":3.03},{"k":"c","t":1054,"v":3},{"k":"c","t":1059,"v":3.04},{"k":"c","t":1064,"v":3.02},{"k":"c","t":1068.7,"v":3.03},{"k":"c","t":1073,"v":3.01},{"k":"c","t":1078,"v":3.05},{"k":"c","t":1083,"v":3.02},{"k":"c","t":1088,"v":3.05},{"k":"c","t":1093,"v":3.04},{"k":"c","t":1098,"v":3.03},{"k":"c","t":1103,"v":3.01},{"k":"c","t":1107.4,"v":3.03},{"k":"c","t":1112,"v":3.02},{"k":"c","t":1117,"v":3.04},{"k":"c","t":1122.8,"v":3},{"k":"c","t":1127,"v":3.02},{"k":"c","t":1132,"v":2.99},{"k":"c","t":1137,"v":3.01},{"k":"c","t":1142,"v":2.98},{"k":"c","t":1146,"v":3},{"k":"c","t":1149.5,"v":2.97},{"k":"c","t":1153,"v":3},{"k":"c","t":1157,"v":3.04},{"k":"c","t":1160,"v":3.07},{"k":"c","t":1163.1,"v":3.08},{"k":"c","t":1166,"v":3.05},{"k":"c","t":1169,"v":3},{"k":"c","t":1173,"v":2.92},{"k":"c","t":1176,"v":2.8},{"k":"c","t":1180.7,"v":2.69},{"k":"c","t":1184,"v":2.75},{"k":"c","t":1188,"v":2.77},{"k":"c","t":1192.4,"v":2.78},{"k":"c","t":1196,"v":2.76},{"k":"c","t":1200,"v":2.79},{"k":"c","t":1204,"v":2.77},{"k":"c","t":1207.8,"v":2.78},{"k":"c","t":1211,"v":2.74},{"k":"c","t":1215.5,"v":2.69},{"k":"c","t":1219,"v":2.78},{"k":"c","t":1223.3,"v":2.89}
]
},
"data": {"name": "pts"},
"transform": [{"lookup": "k", "from": {"data": {"name": "names"}, "key": "k", "fields": ["name"]}}],
"mark": {"type": "line", "strokeWidth": 2, "clip": true},
"encoding": {
"x": {"field": "t", "type": "quantitative",
"scale": {"domain": [0, 1240], "nice": false, "zero": false},
"axis": {"values": [0,40,80,120,160,200,240,280,320,360,400,440,480,520,560,600,640,680,720,760,800,840,880,920,960,1000,1040,1080,1120,1160,1200,1240],
"format": "d", "labelExpr": "datum.value % 200 === 0 ? datum.label : ''",
"offset": -180, "grid": false, "domainColor": "black", "tickColor": "black",
"tickSize": {"condition": {"test": "datum.value % 200 === 0", "value": 7}, "value": 5},
"labelFont": "Liberation Serif", "labelFontSize": 25, "labelColor": "black", "labelPadding": 17, "labelFlush": false, "labelOverlap": false,
"title": "Température (°C)", "titleFont": "Liberation Serif", "titleFontSize": 26, "titleFontWeight": "normal", "titleColor": "black", "titleY": 212, "titleBaseline": "middle"}},
"y": {"field": "v", "type": "quantitative",
"scale": {"domain": [-3, 8], "nice": false, "zero": false},
"axis": {"values": [-3, -1, 1, 3, 5, 7, 8], "labelExpr": "datum.value === 8 ? '' : datum.label",
"grid": true, "gridColor": "#7a7a7a", "gridWidth": 1, "domainColor": "black", "tickColor": "black", "tickSize": 7,
"tickOpacity": {"condition": {"test": "datum.value === 8", "value": 0}, "value": 1},
"labelFont": "Liberation Serif", "labelFontSize": 25, "labelColor": "black", "labelPadding": 13, "labelFlush": false,
"title": "HF (µV)", "titleFont": "Liberation Serif", "titleFontSize": 26, "titleFontWeight": "normal", "titleColor": "black", "titleX": -66, "titleBaseline": "middle"}},
"color": {"field": "name", "type": "nominal",
"scale": {"domain": ["Al anodisé", "boehmite catalysée avec HCl 0,1mole", "boehmite catalysée avec H2SO4 0,1mole", "boehmite catalysée avec H3PO4 0,1mole", "Al2(SO4)3.18H2O"],
"range": ["#000080", "#339966", "#FFCC00", "#FF0000", "#00FFFF"]},
"legend": {"orient": "none", "legendX": 20, "legendY": 10, "title": null, "symbolType": "stroke", "symbolSize": 900, "symbolStrokeWidth": 2,
"labelFont": "Liberation Serif", "labelFontSize": 26, "labelColor": "black", "labelLimit": 0, "labelOffset": 5, "rowPadding": 5,
"fillColor": "white", "padding": 2}}
}
}
